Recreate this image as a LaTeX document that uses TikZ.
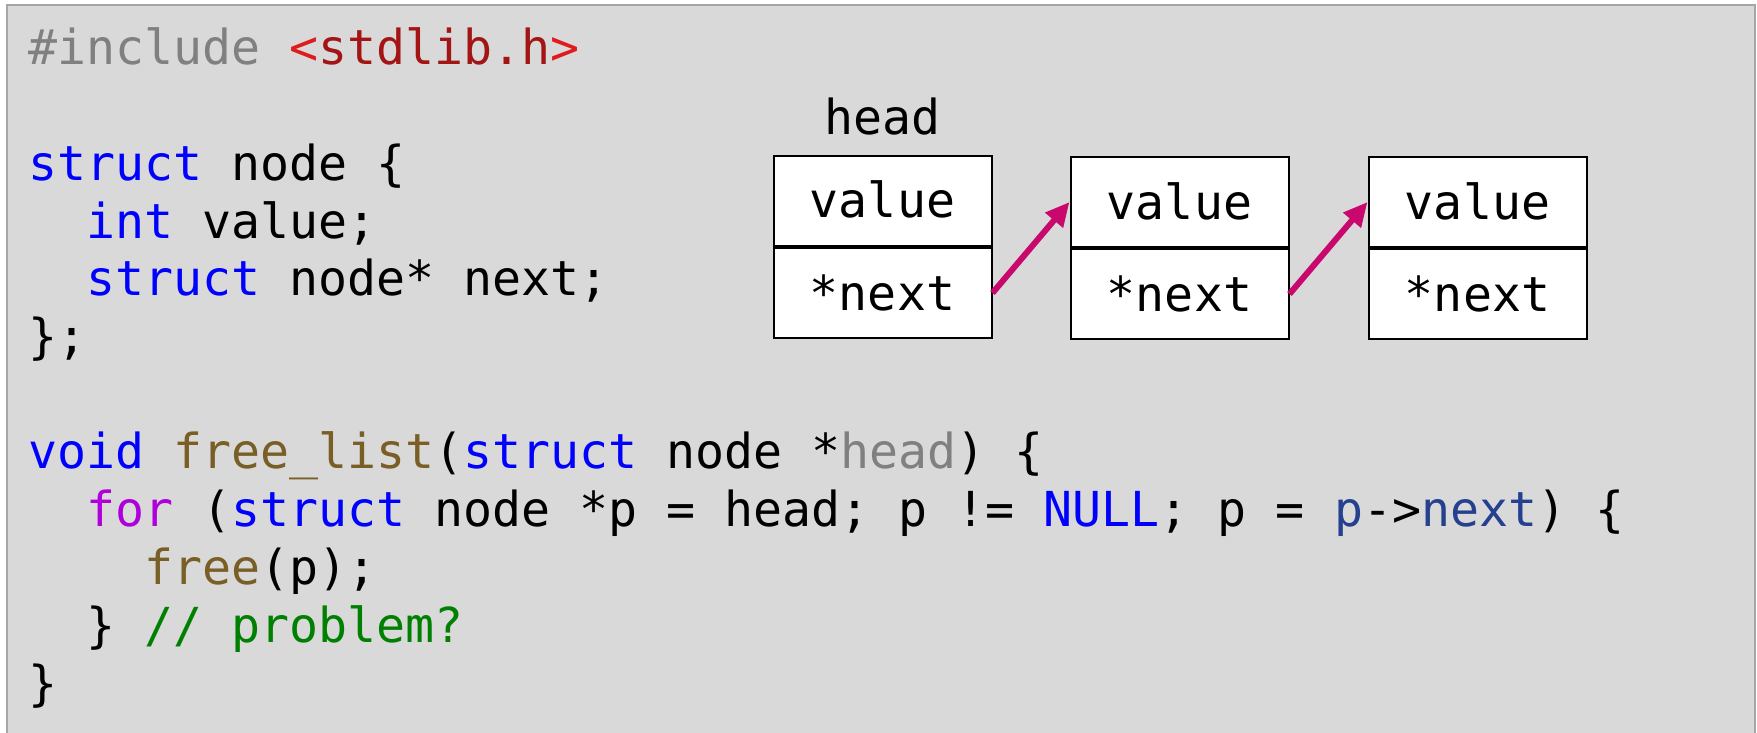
\documentclass[tikz,border=0pt]{standalone}
\usepackage{fontspec}
\setmainfont{DejaVu Sans Mono}
\usetikzlibrary{arrows.meta}
\definecolor{cgray}{HTML}{808080}
\definecolor{cred}{HTML}{E01B1B}
\definecolor{cdred}{HTML}{A31515}
\definecolor{ckw}{HTML}{0000FF}
\definecolor{cfn}{HTML}{795E26}
\definecolor{cpurple}{HTML}{AF00DB}
\definecolor{cvar}{HTML}{24408E}
\definecolor{ccom}{HTML}{008000}
\definecolor{carrow}{HTML}{C8086C}
\definecolor{bgfill}{HTML}{D9D9D9}
\definecolor{bgframe}{HTML}{A6A6A6}
\tikzset{
  code/.style={anchor=base west, inner sep=0pt, font=\fontsize{48.2}{57.6}\selectfont},
  cell/.style={draw=black, line width=2pt, fill=white, minimum width=218pt, minimum height=90pt,
    inner sep=0pt, text height=40pt, text depth=6pt, font=\fontsize{48.2}{57.6}\selectfont},
  ptr/.style={draw=carrow, line width=6pt, -{Triangle[length=24pt,width=22pt]}},
  lbl/.style={anchor=base, inner sep=0pt, font=\fontsize{48.2}{57.6}\selectfont}
}
\begin{document}
\begin{tikzpicture}[x=1pt,y=-1pt]
\useasboundingbox (0,0) rectangle (1757,733);
\draw[fill=bgfill, draw=bgframe, line width=2pt] (7,5) rectangle (1755,760);
% code
\node[code] (l1) at (28,65) {{\color{cgray}\#include} {\color{cred}<}{\color{cdred}stdlib.h}{\color{cred}>}};
\node[code] (l3) at (28,180.5) {{\color{ckw}struct} node \{};
\node[code] (l4) at (28,238) {~~{\color{ckw}int} value;};
\node[code] (l5) at (28,295.5) {~~{\color{ckw}struct} node* next;};
\node[code] (l6) at (28,353) {\};};
\node[code] (l8) at (28,468) {{\color{ckw}void} {\color{cfn}free\_list}({\color{ckw}struct} node *{\color{cgray}head}) \{};
\node[code] (l9) at (28,526) {~~{\color{cpurple}for} ({\color{ckw}struct} node *p = head; p != {\color{ckw}NULL}; p = {\color{cvar}p}->{\color{cvar}next}) \{};
\node[code] (l10) at (28,584) {~~~~{\color{cfn}free}(p);};
\node[code] (l11) at (28,642) {~~\} {\color{ccom}// problem?}};
\node[code] (l12) at (28,700) {\}};
% list
\node[cell] (v1) at (882.5,201) {value};
\node[cell, anchor=north] (n1) at (v1.south) {*next};
\node[cell] (v2) at (1179.5,202) {value};
\node[cell, anchor=north] (n2) at (v2.south) {*next};
\node[cell] (v3) at (1477.5,202) {value};
\node[cell, anchor=north] (n3) at (v3.south) {*next};
\node[lbl] (hd) at (882.5,135) {head};
\draw[ptr] (n1.east) -- (v2.west);
\draw[ptr] (n2.east) -- (v3.west);
\end{tikzpicture}
\end{document}
